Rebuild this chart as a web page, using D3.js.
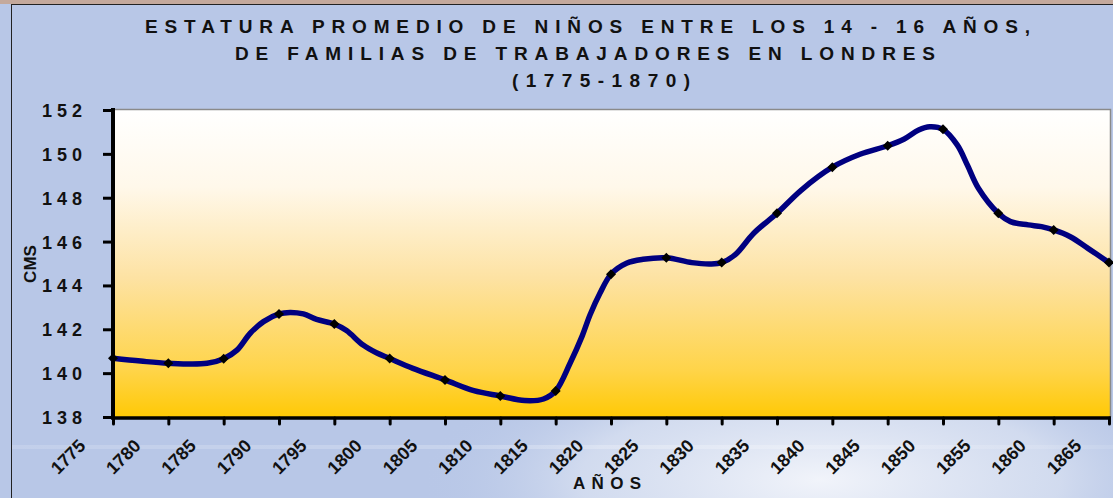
<!DOCTYPE html>
<html>
<head>
<meta charset="utf-8">
<script src="https://cdn.jsdelivr.net/npm/d3@7"></script>
<style>
  html, body { margin: 0; padding: 0; background: #b8c7e7; }
  svg { display: block; font-family: "Liberation Sans", Arial, sans-serif; }
</style>
</head>
<body>
<svg id="chart" width="1113" height="498"></svg>
<script>
// Títulos
const titleLines = [
  'ESTATURA PROMEDIO DE NIÑOS ENTRE LOS 14 - 16 AÑOS,',
  'DE FAMILIAS DE TRABAJADORES EN LONDRES',
  '(1775-1870)'
];
const yTitle = 'CMS';
const xTitle = 'AÑOS';

// Años marcados en el eje y puntos con marcador
const markerYears = [1775, 1780, 1785, 1790, 1795, 1800, 1805, 1810, 1815, 1820,
  1825, 1830, 1835, 1840, 1845, 1850, 1855, 1860, 1865];
const markerValues = [140.68, 140.45, 140.66, 142.70, 142.24, 140.67, 139.69, 138.96, 139.19, 144.51,
  145.26, 145.04, 147.29, 149.39, 150.37, 151.12, 147.29, 146.53, 145.04];

// Trazo de la curva (incluye puntos intermedios)
const lineYears = [1775, 1777.5, 1780, 1783.5, 1785, 1786.2, 1787.4, 1788.6, 1790, 1791,
  1792.2, 1793.4, 1795, 1796.1, 1797.6, 1798.8, 1800, 1802.1, 1805, 1807.6,
  1810, 1812.2, 1813.9, 1815, 1816.3, 1817.4, 1818.1, 1819, 1820, 1821.4,
  1822.9, 1825, 1827.3, 1829, 1830, 1831.2, 1832.9, 1835, 1837.2, 1840,
  1842.5, 1845, 1846.5, 1847.8, 1848.8, 1850, 1851.3, 1852.2, 1853.2, 1855,
  1856.1, 1857.7, 1858.9, 1860, 1861.5, 1863.1, 1865];
const lineValues = [140.68, 140.55, 140.45, 140.45, 140.66, 141.05, 141.82, 142.35, 142.70, 142.77,
  142.70, 142.45, 142.24, 141.94, 141.28, 140.93, 140.67, 140.22, 139.69, 139.20,
  138.96, 138.75, 138.82, 139.19, 140.45, 141.70, 142.65, 143.64, 144.51, 145.01,
  145.19, 145.26, 145.04, 144.98, 145.04, 145.39, 146.38, 147.29, 148.35, 149.39,
  149.98, 150.37, 150.68, 151.09, 151.24, 151.12, 150.40, 149.49, 148.43, 147.29,
  146.91, 146.76, 146.68, 146.53, 146.22, 145.69, 145.04];

const yTicks = [138, 140, 142, 144, 146, 148, 150, 152];

const W = 1113, H = 498;
const plot = { left: 113, right: 1109, top: 110, bottom: 417 };
const FONT = '"Liberation Sans", Arial, sans-serif';

const svg = d3.select('#chart');
const defs = svg.append('defs');

// Fondo
const bgGlow = defs.append('radialGradient')
  .attr('id', 'bgGlow')
  .attr('gradientUnits', 'userSpaceOnUse')
  .attr('cx', 820).attr('cy', 480).attr('r', 400)
  .attr('gradientTransform', 'translate(820,480) scale(1,0.35) translate(-820,-480)');
bgGlow.append('stop').attr('offset', '0%').attr('stop-color', '#f4f6fb').attr('stop-opacity', 0.95);
bgGlow.append('stop').attr('offset', '60%').attr('stop-color', '#e2e8f4').attr('stop-opacity', 0.6);
bgGlow.append('stop').attr('offset', '100%').attr('stop-color', '#b8c7e7').attr('stop-opacity', 0);

const stripe = defs.append('linearGradient').attr('id', 'stripe');
stripe.append('stop').attr('offset', '0%').attr('stop-color', '#ffffff').attr('stop-opacity', 0.15);
stripe.append('stop').attr('offset', '60%').attr('stop-color', '#ffffff').attr('stop-opacity', 0.25);
stripe.append('stop').attr('offset', '100%').attr('stop-color', '#ffffff').attr('stop-opacity', 0.1);

const plotFill = defs.append('linearGradient')
  .attr('id', 'plotFill')
  .attr('x1', 0).attr('y1', 0).attr('x2', 0).attr('y2', 1);
plotFill.append('stop').attr('offset', '0%').attr('stop-color', '#ffffff');
plotFill.append('stop').attr('offset', '25%').attr('stop-color', '#fff8ea');
plotFill.append('stop').attr('offset', '55%').attr('stop-color', '#fde2a2');
plotFill.append('stop').attr('offset', '85%').attr('stop-color', '#ffd448');
plotFill.append('stop').attr('offset', '100%').attr('stop-color', '#ffc905');

svg.append('rect').attr('width', W).attr('height', H).attr('fill', '#b8c7e7');
svg.append('rect').attr('x', 0).attr('y', 380).attr('width', W).attr('height', 118).attr('fill', 'url(#bgGlow)');
svg.append('rect').attr('x', 12).attr('y', 445).attr('width', W - 12).attr('height', 4).attr('fill', 'url(#stripe)');
svg.append('rect').attr('width', W).attr('height', 4).attr('fill', '#c4a99c');
svg.append('line').attr('x1', 11).attr('x2', W).attr('y1', 4.5).attr('y2', 4.5)
  .attr('stroke', '#222').attr('stroke-width', 1);
svg.append('line').attr('x1', 11.5).attr('x2', 11.5).attr('y1', 4).attr('y2', H)
  .attr('stroke', '#222').attr('stroke-width', 1);

// Título
const titleWidths = [885, 700, 178];
const titleY = [33, 60, 87];
svg.append('g').selectAll('text')
  .data(titleLines)
  .enter()
  .append('text')
  .attr('x', (d, i) => [145, 235, 512][i])
  .attr('y', (d, i) => titleY[i])
  .attr('textLength', (d, i) => titleWidths[i])
  .attr('lengthAdjust', 'spacing')
  .attr('fill', '#111')
  .style('font-size', '19px')
  .style('font-weight', 'bold')
  .text(d => d);

// Escalas
const x = d3.scaleLinear().domain([1775, 1865]).range([plot.left, plot.right]);
const y = d3.scaleLinear().domain([138, 152]).range([plot.bottom, plot.top]);

// Área de trazado
svg.append('rect')
  .attr('x', plot.left).attr('y', plot.top)
  .attr('width', plot.right - plot.left + 1).attr('height', plot.bottom - plot.top)
  .attr('fill', 'url(#plotFill)');
svg.append('polyline')
  .attr('points', `${plot.left},${plot.top - 0.5} ${plot.right + 1.5},${plot.top - 0.5} ${plot.right + 1.5},${plot.bottom}`)
  .attr('fill', 'none')
  .attr('stroke', '#8a8a8a')
  .attr('stroke-width', 1.5);

// Eje Y
const yAxis = svg.append('g')
  .attr('transform', `translate(${plot.left},0)`)
  .call(d3.axisLeft(y).tickValues(yTicks).tickSize(10).tickPadding(20).tickFormat(d3.format('d')))
  .attr('font-family', FONT);
yAxis.select('.domain').attr('stroke', '#000').attr('stroke-width', 4)
  .attr('d', `M0,${plot.top - 2}V${plot.bottom + 2}`);
yAxis.selectAll('.tick line').attr('stroke', '#000').attr('stroke-width', 3);
yAxis.selectAll('.tick text')
  .attr('fill', '#111')
  .attr('dy', '0.36em')
  .attr('font-size', 18)
  .attr('font-weight', 'bold')
  .style('letter-spacing', '5px')
  .attr('dx', 4);

// Eje X
const xAxis = svg.append('g')
  .attr('transform', `translate(0,${plot.bottom + 1})`)
  .call(d3.axisBottom(x).tickValues(markerYears).tickSize(6).tickFormat(d3.format('d')))
  .attr('font-family', FONT);
xAxis.select('.domain').attr('stroke', '#000').attr('stroke-width', 3.5)
  .attr('d', `M${plot.left - 2},0H${plot.right + 2}`);
xAxis.selectAll('.tick line').attr('stroke', '#000').attr('stroke-width', 3).attr('stroke-linecap', 'round');
xAxis.selectAll('.tick text')
  .attr('y', null).attr('dy', null)
  .attr('text-anchor', 'end')
  .attr('transform', 'translate(-27,29) rotate(-45)')
  .attr('fill', '#111')
  .attr('font-size', 18)
  .attr('font-weight', 'bold');

// Títulos de ejes
svg.append('text')
  .attr('transform', 'translate(36,264) rotate(-90)')
  .attr('text-anchor', 'middle')
  .attr('fill', '#111')
  .attr('font-size', 17)
  .attr('font-weight', 'bold')
  .text(yTitle);
svg.append('text')
  .attr('x', 573).attr('y', 489)
  .attr('textLength', 68)
  .attr('lengthAdjust', 'spacing')
  .attr('fill', '#111')
  .attr('font-size', 17)
  .attr('font-weight', 'bold')
  .text(xTitle);

// Curva
const lineData = lineYears.map((yr, i) => ({ year: yr, value: lineValues[i] }));
const line = d3.line()
  .x(d => x(d.year))
  .y(d => y(d.value))
  .curve(d3.curveCatmullRom.alpha(0.5));
svg.append('path')
  .datum(lineData)
  .attr('d', line)
  .attr('fill', 'none')
  .attr('stroke', '#000080')
  .attr('stroke-width', 5.5)
  .attr('stroke-linejoin', 'round')
  .attr('stroke-linecap', 'round');

// Marcadores
const markerData = markerYears.map((yr, i) => ({ year: yr, value: markerValues[i] }));
svg.append('g').selectAll('path')
  .data(markerData)
  .enter()
  .append('path')
  .attr('d', d3.symbol(d3.symbolSquare, 50))
  .attr('transform', d => `translate(${x(d.year)},${y(d.value)}) rotate(45)`)
  .attr('fill', '#000');

// Redibujar el eje Y por encima del inicio de la curva
svg.append('line')
  .attr('x1', plot.left).attr('x2', plot.left)
  .attr('y1', plot.top - 2).attr('y2', plot.bottom + 2)
  .attr('stroke', '#000').attr('stroke-width', 4);
</script>
</body>
</html>
